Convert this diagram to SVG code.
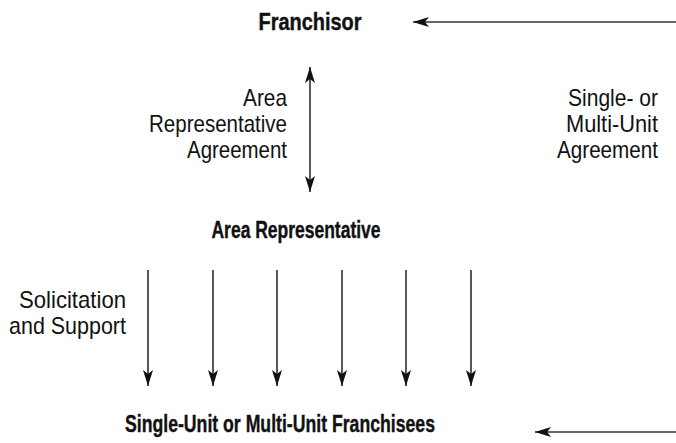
<svg xmlns="http://www.w3.org/2000/svg" width="676" height="443" viewBox="0 0 676 443">
<style>
.t{font-family:"Liberation Sans",Arial,sans-serif;font-size:24px;fill:#111;text-anchor:end}
.b{font-family:"Liberation Sans",Arial,sans-serif;font-size:24px;font-weight:bold;fill:#111;stroke:#111;stroke-width:0.4;text-anchor:middle}
.c{stroke:#111;stroke-width:1.4;fill:none}
.h{stroke:#333;stroke-width:1.4;fill:none}
</style>
<defs>
<marker id="ah" markerUnits="userSpaceOnUse" viewBox="-17 -6 18 12" refX="0" refY="0" markerWidth="18" markerHeight="12" orient="auto-start-reverse">
<path d="M0,0 L-16,-5 L-12,0 L-16,5 Z" fill="#111"/>
</marker>
</defs>
<rect width="676" height="443" fill="#fff"/>
<g id="franchisor"><text class="b" x="310" y="30" textLength="103" lengthAdjust="spacingAndGlyphs">Franchisor</text></g>
<g id="area-representative"><text class="b" x="296" y="238" textLength="169" lengthAdjust="spacingAndGlyphs">Area Representative</text></g>
<g id="franchisees"><text class="b" x="280" y="432" textLength="310" lengthAdjust="spacingAndGlyphs">Single-Unit or Multi-Unit Franchisees</text></g>
<g id="labels">
<text class="t" x="287" y="106" textLength="44" lengthAdjust="spacingAndGlyphs">Area</text>
<text class="t" x="287" y="132" textLength="138" lengthAdjust="spacingAndGlyphs">Representative</text>
<text class="t" x="287" y="158" textLength="100" lengthAdjust="spacingAndGlyphs">Agreement</text>
<text class="t" x="658" y="106" textLength="90" lengthAdjust="spacingAndGlyphs">Single- or</text>
<text class="t" x="658" y="132" textLength="92" lengthAdjust="spacingAndGlyphs">Multi-Unit</text>
<text class="t" x="658" y="158" textLength="101" lengthAdjust="spacingAndGlyphs">Agreement</text>
<text class="t" x="126" y="308" textLength="107" lengthAdjust="spacingAndGlyphs">Solicitation</text>
<text class="t" x="126" y="334" textLength="117" lengthAdjust="spacingAndGlyphs">and Support</text>
</g>
<g id="connectors">
<line class="h" x1="676" y1="22" x2="413" y2="22" marker-end="url(#ah)"/>
<line class="h" x1="676" y1="432" x2="535" y2="432" marker-end="url(#ah)"/>
<line class="c" x1="310" y1="67" x2="310" y2="192" marker-start="url(#ah)" marker-end="url(#ah)"/>
<line class="c" x1="148" y1="270" x2="148" y2="386" marker-end="url(#ah)"/>
<line class="c" x1="213" y1="270" x2="213" y2="386" marker-end="url(#ah)"/>
<line class="c" x1="277" y1="270" x2="277" y2="386" marker-end="url(#ah)"/>
<line class="c" x1="342" y1="270" x2="342" y2="386" marker-end="url(#ah)"/>
<line class="c" x1="406" y1="270" x2="406" y2="386" marker-end="url(#ah)"/>
<line class="c" x1="471" y1="270" x2="471" y2="386" marker-end="url(#ah)"/>
</g>
</svg>
